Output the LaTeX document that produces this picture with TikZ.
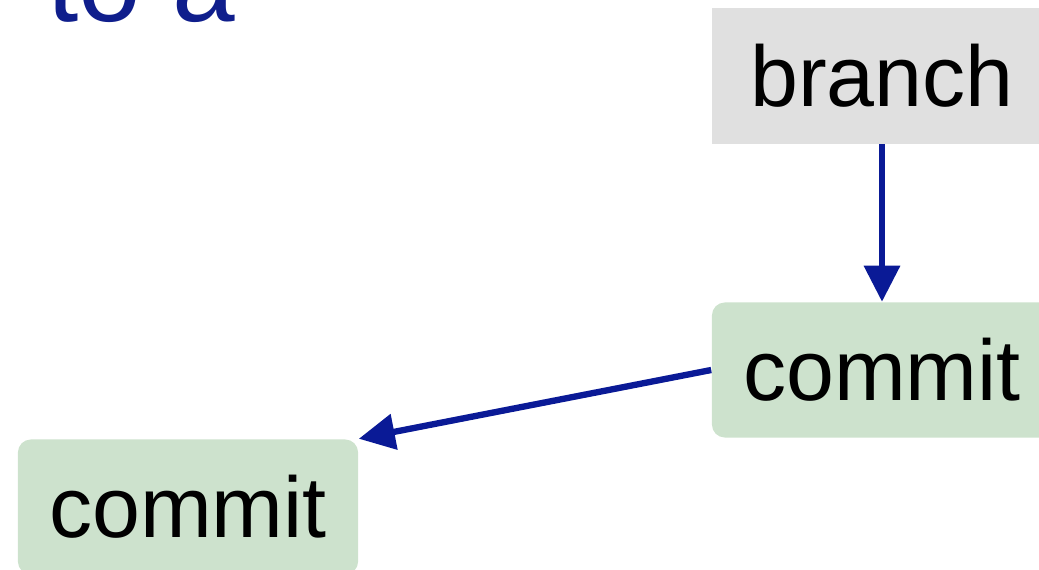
\documentclass[tikz,border=0pt]{standalone}
\usepackage{fontspec}
\setmainfont{Liberation Sans}
\usetikzlibrary{arrows.meta}
\definecolor{titleblue}{HTML}{0F1E8C}
\definecolor{arrowblue}{HTML}{0A1A96}
\definecolor{branchgray}{HTML}{E0E0E0}
\definecolor{commitgreen}{HTML}{CDE2CD}
\tikzset{
  box/.style={minimum width=3.4cm, minimum height=1.35cm, inner sep=0pt, font=\fontsize{24.5}{29}\selectfont},
  branchbox/.style={box, fill=branchgray},
  commitbox/.style={box, fill=commitgreen, rounded corners=0.13cm},
  ptr/.style={arrowblue, line width=1.8pt, -{Triangle[length=0.36cm,width=0.35cm]}}
}
\begin{document}
\begin{tikzpicture}[x=0.01cm,y=-0.01cm]
  \useasboundingbox (0,0) rectangle (1039,570);
  \clip (0,0) rectangle (1039,570);
  \node[anchor=base east, inner sep=0pt, titleblue, font=\fontsize{32}{38}\selectfont] (title) at (236,22) {n\hspace{0.1cm} to a};
  \node[branchbox] (br) at (882,76) {branch};
  \node[commitbox] (c2) at (882,370) {commit};
  \node[commitbox] (c1) at (188,507) {commit};
  \draw[ptr] (br) -- (c2);
  \draw[ptr] (c2.west) -- (c1.north east);
\end{tikzpicture}
\end{document}
